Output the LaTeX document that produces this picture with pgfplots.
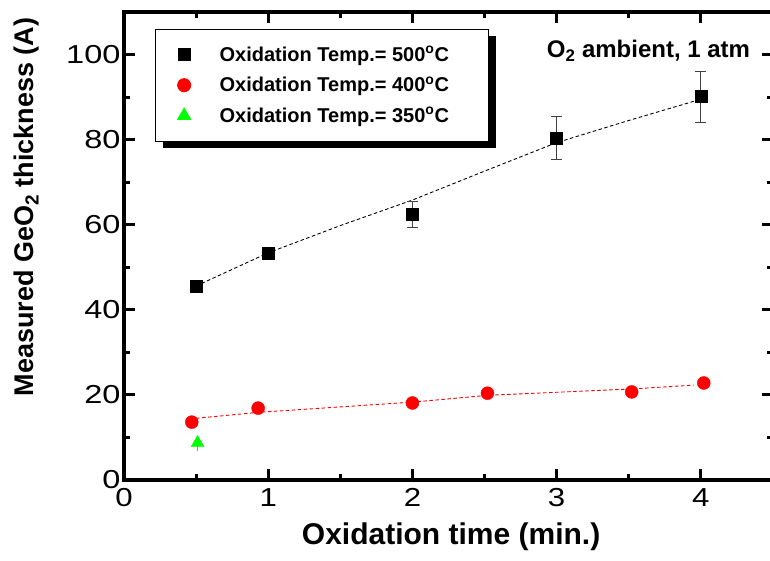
\documentclass[border=0pt]{standalone}
\usepackage{fontspec}
\setmainfont{Liberation Sans}
\usepackage{pgfplots}
\pgfplotsset{compat=1.18}
\usetikzlibrary{shadows}
\begin{document}
\begin{tikzpicture}
\begin{axis}[
  scale only axis, width=649pt, height=468pt,
  xmin=0, xmax=4.5, ymin=0, ymax=110,
  xtick={0,1,2,3,4}, ytick={0,20,40,60,80,100},
  minor xtick={0.5,1.5,2.5,3.5}, minor ytick={10,30,50,70,90},
  tick align=inside,
  major tick length=11pt, minor tick length=6pt,
  every tick/.style={black, line width=3pt},
  axis line style={line width=3.5pt},
  ticklabel style={font=\fontsize{26}{30}\selectfont},
  xticklabel style={yshift=-5pt},
  xticklabel={\scalebox{1.2}[1]{\pgfmathprintnumber{\tick}}},
  yticklabel={\scalebox{1.25}[1]{\pgfmathprintnumber{\tick}}},
  /pgf/number format/assume math mode=true,
  xlabel={Oxidation time (min.)},
  ylabel={Measured GeO\textsubscript{2} thickness (A)},
  xlabel style={font=\bfseries\fontsize{30}{34}\selectfont, at={(axis description cs:0.504,-0.122)}, anchor=center},
  ylabel style={font=\bfseries\fontsize{27}{31}\selectfont, at={(axis description cs:-0.1495,0.583)}, anchor=center},
  legend style={at={(rel axis cs:0.048,0.964)}, anchor=north west, draw=black, line width=1pt, fill=white,
    drop shadow={shadow xshift=7pt, shadow yshift=-7pt, opacity=1, fill=black},
    font=\bfseries\fontsize{20}{24}\selectfont, row sep=10pt, column sep=27pt, inner xsep=22pt, inner ysep=15pt},
  legend cell align=left,
]
\addplot[black, dash pattern=on 3.5pt off 2.5pt, line width=0.9pt, forget plot] coordinates {(0.5,45.6) (1,53.4) (1.5,59.8) (2,65.8) (2.5,72.6) (3,79.3) (3.5,84.5) (3.95,89)};
\addplot[red, dash pattern=on 3.5pt off 2.5pt, line width=0.9pt, forget plot] coordinates {(0.5,14.5) (0.93,15.9) (2,18.3) (2.52,19.9) (3.52,21.4) (3.95,22.3)};
\addplot[only marks, mark=square*, mark size=6pt, black,
  error bars/.cd, y dir=both, y explicit,
  error bar style={line width=1pt, black!75},
  error mark options={rotate=90, mark size=5.5pt, line width=1pt, black!75}]
  table[x=x, y=y, y error=e] {
x y e
0.5 45.6 0
1 53.4 0
2 62.4 3
3 80.4 5
4 90.1 6
};
\addlegendentry{Oxidation Temp.= 500\textsuperscript{o}C\hspace*{16pt}}
\addplot[only marks, mark=*, mark size=6.5pt, red, mark options={fill=red, draw=red}]
  coordinates {(0.47,13.6) (0.93,16.9) (2.0,18.1) (2.52,20.4) (3.52,20.7) (4.02,22.8)};
\addlegendentry{Oxidation Temp.= 400\textsuperscript{o}C\hspace*{16pt}}
\addplot[only marks, mark=triangle*, mark size=7.5pt, green, mark options={fill=green, draw=green},
  error bars/.cd, y dir=minus, y explicit,
  error bar style={line width=1pt, green}, error mark=none]
  coordinates {(0.51,8.7) +- (0,2)};
\addlegendentry{Oxidation Temp.= 350\textsuperscript{o}C\hspace*{16pt}}
\node[font=\bfseries\fontsize{24}{28}\selectfont, anchor=base east, inner sep=0pt] at (rel axis cs:0.965,0.902) {O\textsubscript{2} ambient, 1 atm};
\end{axis}
\pgfresetboundingbox
\path[use as bounding box] ([xshift=-124pt,yshift=-81pt]current axis.south west) rectangle ([xshift=646pt,yshift=480pt]current axis.south west);
\end{tikzpicture}
\end{document}
